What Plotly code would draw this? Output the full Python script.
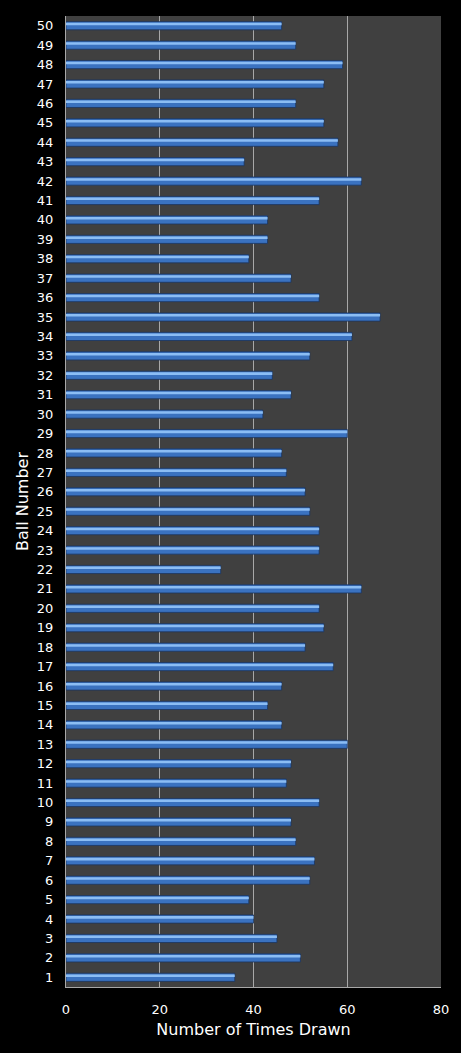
import plotly.graph_objects as go

# Ball numbers 1..50 and how often each was drawn
balls = [str(n) for n in range(1, 51)]
times_drawn = [
    36, 50, 45, 40, 39, 52, 53, 49, 48, 54,
    47, 48, 60, 46, 43, 46, 57, 51, 55, 54,
    63, 33, 54, 54, 52, 51, 47, 46, 60, 42,
    48, 44, 52, 61, 67, 54, 48, 39, 43, 43,
    54, 63, 38, 58, 55, 49, 55, 59, 49, 46,
]
x_ticks = [0, 20, 40, 60, 80]

font_family = "DejaVu Sans, Verdana, sans-serif"

fig = go.Figure()

# base bar (darker body)
fig.add_trace(go.Bar(
    x=times_drawn, y=balls, orientation="h",
    width=0.42,
    marker=dict(color="#3a72c0", line=dict(color="#1b3560", width=0.8)),
    hoverinfo="x+y",
))
# highlight stripe on the upper half for the glossy look
fig.add_trace(go.Bar(
    x=times_drawn, y=balls, orientation="h",
    width=0.13, offset=0.02,
    marker=dict(color="#8bbdf4", line=dict(width=0)),
    hoverinfo="skip",
))

fig.update_layout(
    width=461, height=1053,
    margin=dict(l=66, r=20, t=16, b=66),
    paper_bgcolor="black",
    plot_bgcolor="#404040",
    barmode="overlay",
    showlegend=False,
    font=dict(family=font_family, color="white", size=13),
)

fig.update_xaxes(
    range=[0, 80], tickvals=x_ticks,
    showgrid=True, gridcolor="#a8a8a8", gridwidth=1,
    zeroline=False,
    showline=True, linecolor="#a8a8a8", linewidth=1,
    ticks="", ticklen=0, ticklabelstandoff=10,
    tickfont=dict(size=13, color="white"),
    title=dict(text="Number of Times Drawn", font=dict(size=16, color="white"), standoff=8),
    fixedrange=True,
)
fig.update_yaxes(
    type="category", categoryorder="array", categoryarray=balls,
    range=[-0.5, 49.5],
    showgrid=False, zeroline=False,
    showline=True, linecolor="#a8a8a8", linewidth=1,
    ticks="", ticklen=0, ticklabelstandoff=9,
    tickfont=dict(size=13, color="white"),
    title=dict(text="Ball Number", font=dict(size=16, color="white"), standoff=4),
    fixedrange=True,
)

# drop the browser's default page margin so the figure fills the window
fig.write_html("out.html",
               config={"displayModeBar": False},
               post_script="document.body.style.margin='0';document.body.style.background='black';")
